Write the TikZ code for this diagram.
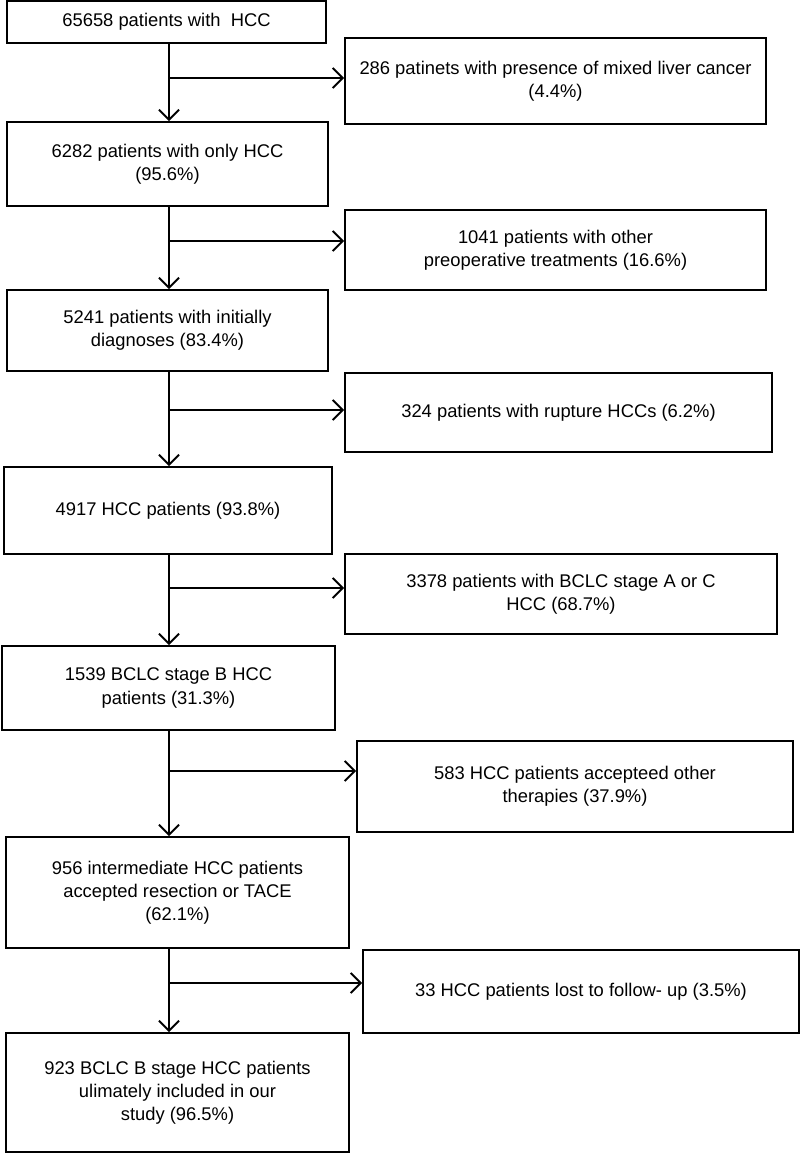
\documentclass[tikz,border=0pt]{standalone}
\usepackage{fontspec}
\setmainfont{Liberation Sans}
\usetikzlibrary{arrows.meta}

\begin{document}
\begin{tikzpicture}[
    base/.style = {rectangle, draw=black, line width=1.1pt,
text centered, align=center, inner sep=0pt},
main/.style = {base},
excl/.style = {base},
>={Straight Barb[length=2mm, width=4mm, line width=1.1pt]},
every node/.style={font=\fontsize{10.45}{13.2}\selectfont},
line width=1.1pt
]
  \useasboundingbox (0,0) rectangle (16,-23.06);

  % left column
  \node (hcc) [main, minimum width=6.38cm, minimum height=0.84cm] at (3.33,-0.44) {65658 patients with \ HCC};
  \node (only) [main, minimum width=6.42cm, minimum height=1.68cm] at (3.35,-3.28) {6282 patients with only HCC\\(95.6\%)};
  \node (init) [main, minimum width=6.42cm, minimum height=1.62cm] at (3.35,-6.61) {5241 patients with initially\\diagnoses (83.4\%)};
  \node (hccp) [main, minimum width=6.56cm, minimum height=1.74cm] at (3.36,-10.21) {4917 HCC patients (93.8\%)};
  \node (stageb) [main, minimum width=6.66cm, minimum height=1.68cm] at (3.37,-13.76) {1539 BCLC stage B HCC\\patients (31.3\%)};
  \node (inter) [main, minimum width=6.86cm, minimum height=2.22cm] at (3.55,-17.85) {956 intermediate HCC patients\\accepted resection or TACE\\(62.1\%)};
  \node (final) [main, minimum width=6.86cm, minimum height=2.38cm] at (3.55,-21.85) {923 BCLC B stage HCC patients\\ulimately included in our\\study (96.5\%)};

  % excluded
  \node (mixed) [excl, minimum width=8.42cm, minimum height=1.72cm] at (11.11,-1.62) {286 patinets with presence of mixed liver cancer\\(4.4\%)};
  \node (preop) [excl, minimum width=8.42cm, minimum height=1.6cm] at (11.11,-5.0) {1041 patients with other\\preoperative treatments (16.6\%)};
  \node (rupt) [excl, minimum width=8.54cm, minimum height=1.58cm] at (11.17,-8.25) {324 patients with rupture HCCs (6.2\%)};
  \node (stageac) [excl, minimum width=8.64cm, minimum height=1.6cm] at (11.22,-11.88) {3378 patients with BCLC stage A or C\\HCC (68.7\%)};
  \node (other) [excl, minimum width=8.72cm, minimum height=1.82cm] at (11.5,-15.73) {583 HCC patients accepteed other\\therapies (37.9\%)};
  \node (lost) [excl, minimum width=8.72cm, minimum height=1.66cm] at (11.62,-19.83) {33 HCC patients lost to follow- up (3.5\%)};

  \coordinate (spine) at (3.38,0);
  \coordinate (s1) at (3.38,-1.56);
  \coordinate (s2) at (3.38,-4.82);
  \coordinate (s3) at (3.38,-8.2);
  \coordinate (s4) at (3.38,-11.76);
  \coordinate (s5) at (3.38,-15.42);
  \coordinate (s6) at (3.38,-19.66);

  \draw[->]     (hcc.south -| spine) -- (only.north -| spine);
  \draw[->]     (only.south -| spine) -- (init.north -| spine);
  \draw[->]     (init.south -| spine) -- (hccp.north -| spine);
  \draw[->]     (hccp.south -| spine) -- (stageb.north -| spine);
  \draw[->]     (stageb.south -| spine) -- (inter.north -| spine);
  \draw[->]     (inter.south -| spine) -- (final.north -| spine);

  \draw[->]     (s1) -- (s1 -| mixed.west);
  \draw[->]     (s2) -- (s2 -| preop.west);
  \draw[->]     (s3) -- (s3 -| rupt.west);
  \draw[->]     (s4) -- (s4 -| stageac.west);
  \draw[->]     (s5) -- (s5 -| other.west);
  \draw[->]     (s6) -- (s6 -| lost.west);

\end{tikzpicture}
\end{document}
